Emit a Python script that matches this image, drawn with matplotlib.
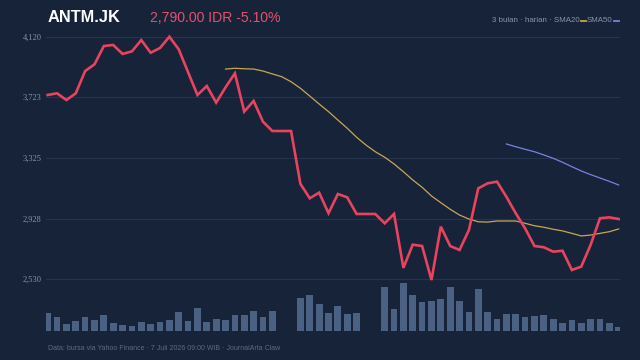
import matplotlib
matplotlib.use('Agg')
import matplotlib.pyplot as plt
from matplotlib.lines import Line2D
import numpy as np

# daily closes, 3 months (ANTM.JK)
price = [3738, 3749, 3705, 3749, 3895, 3939, 4059, 4066, 4007, 4024,
         4098, 4015, 4046, 4120, 4037, 3887, 3738, 3797, 3688, 3788,
         3880, 3629, 3699, 3563, 3502, 3502, 3502, 3155, 3061, 3098,
         2963, 3089, 3067, 2958, 2958, 2958, 2897, 2958, 2605, 2757,
         2748, 2525, 2875, 2748, 2722, 2853, 3126, 3159, 3170, 3071,
         2963, 2864, 2748, 2740, 2711, 2717, 2591, 2613, 2755, 2930,
         2936, 2925]

# SMA20 starts at day 19, SMA50 at day 49
sma20 = [3908, 3913, 3910, 3908, 3895, 3876, 3858, 3825, 3782, 3731,
         3679, 3629, 3574, 3520, 3461, 3410, 3366, 3330, 3286, 3235,
         3181, 3133, 3076, 3032, 2989, 2951, 2925, 2907, 2905, 2912,
         2912, 2912, 2897, 2881, 2871, 2858, 2847, 2831, 2814, 2820,
         2831, 2842, 2860]
sma50 = [3417, 3399, 3382, 3366, 3345, 3323, 3297, 3268, 3240, 3216,
         3194, 3172, 3148]

# volume (relative units)
volume = [18, 14, 7.3, 9.7, 13.7, 10.7, 15.7, 8, 6.3, 5.3,
          9, 7.3, 8.7, 10.7, 18.7, 10.3, 23.3, 9, 12.3, 10.7,
          16.3, 16.3, 20, 14.3, 20, 0, 0, 33.3, 36, 27.3,
          18, 24.7, 16.7, 18.3, 0, 0, 44, 22.3, 48.3, 36,
          29, 30.3, 32, 44, 30.3, 19, 41.7, 19, 12.3, 16.7,
          17.3, 14, 14.7, 16.3, 12.3, 8, 11.3, 8, 11.7, 11.7,
          8, 4]

yticks = [2530, 2928, 3325, 3723, 4120]
ytick_labels = ['2,530', '2,928', '3,325', '3,723', '4,120']

bg = '#172339'
grid_c = '#26344e'
red = '#e8435f'
gold = '#c9a653'
violet = '#7b80e6'
bar_c = '#4a6184'
muted = '#8a94a8'

plt.rcParams['font.family'] = ['Liberation Sans', 'DejaVu Sans']

W, H = 640, 360
fig = plt.figure(figsize=(6.4, 3.6), dpi=100, facecolor=bg)

ax_l, ax_r, ax_t, ax_b = 46, 620, 30, 331
rect = [ax_l / W, 1 - ax_b / H, (ax_r - ax_l) / W, (ax_b - ax_t) / H]

# volume axis underneath
axv = fig.add_axes(rect)
axv.set_facecolor(bg)
x = np.arange(len(price))
axv.bar(x, volume, width=0.72, color=bar_c, linewidth=0)
axv.set_ylim(0, ax_b - ax_t)
axv.set_xlim(-0.18, 61.14)
axv.axis('off')

ax = fig.add_axes(rect, sharex=axv)
ax.patch.set_alpha(0)
ax.set_ylim(2191, 4164)
ax.set_yticks(yticks)
ax.set_yticklabels(ytick_labels)
ax.tick_params(axis='y', length=0, pad=3, labelsize=6, labelcolor=muted)
for lbl in ax.get_yticklabels():
    lbl.set_family('Liberation Serif')
ax.tick_params(axis='x', bottom=False, labelbottom=False)
for s in ax.spines.values():
    s.set_visible(False)
ax.grid(axis='y', color=grid_c, linewidth=0.8)
ax.set_axisbelow(True)

ax.plot(x, price, color=red, lw=1.9, solid_joinstyle='miter', zorder=4)
ax.plot(x[19:], sma20, color=gold, lw=0.9, zorder=3)
ax.plot(x[49:], sma50, color=violet, lw=0.9, zorder=3)

# header
fig.text(48 / W, 1 - 18 / H, 'ANTM.JK', color='white', fontsize=11.8,
         fontweight='bold', va='center', ha='left')
fig.text(150 / W, 1 - 18 / H, '2,790.00 IDR -5.10%', color='#e4506d',
         fontsize=10.1, va='center', ha='left')

# legend pieces, right aligned
ly = 1 - 20.5 / H
fig.add_artist(Line2D([614 / W, 618.5 / W], [ly, ly], color=violet, lw=1.3))
fig.text(612 / W, ly, 'SMA50', color=muted, fontsize=5.7, va='center', ha='right')
fig.add_artist(Line2D([581 / W, 586 / W], [ly, ly], color=gold, lw=1.3))
fig.text(579.5 / W, ly, '3 bulan · harian · SMA20', color=muted, fontsize=5.7,
         va='center', ha='right')

fig.text(48 / W, 1 - 348 / H,
         'Data: bursa via Yahoo Finance · 7 Juli 2026 09:00 WIB · JournalArta Claw',
         color='#5d6a82', fontsize=5.0, va='center', ha='left')

fig.savefig('out.png', dpi=100, facecolor=bg)
